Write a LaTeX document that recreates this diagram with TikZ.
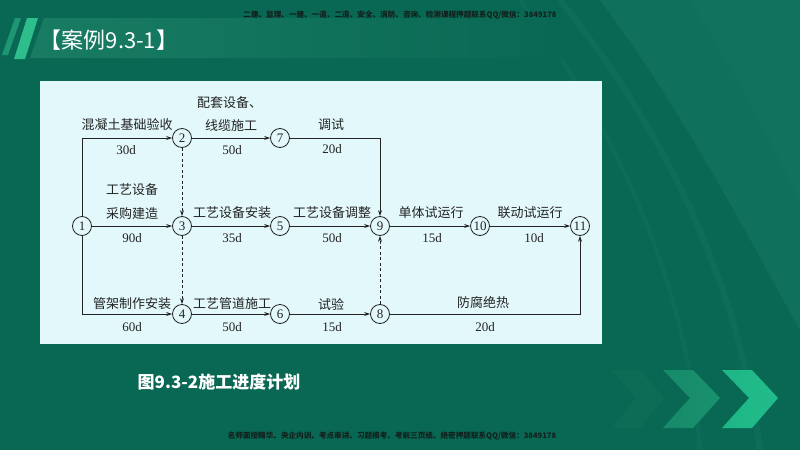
\documentclass[tikz,border=0pt]{standalone}
\usepackage{fontspec}
\setmainfont{Liberation Serif}
\newfontfamily\cjk{Noto Sans CJK SC}
\usetikzlibrary{arrows.meta}
\definecolor{bgg}{RGB}{9,104,84}
\definecolor{bgl}{RGB}{22,120,98}
\definecolor{band}{RGB}{24,124,98}
\definecolor{paper}{RGB}{226,248,250}
\definecolor{ink}{RGB}{35,35,35}
\definecolor{stripe}{RGB}{45,190,140}
\definecolor{stripef}{RGB}{30,150,115}
\definecolor{chevA}{RGB}{12,108,86}
\definecolor{chevB}{RGB}{26,146,110}
\definecolor{chevC}{RGB}{32,188,138}
\definecolor{wm}{RGB}{18,32,28}
\begin{document}
\begin{tikzpicture}[x=1pt,y=-1pt,
  ev/.style={circle,draw=ink,line width=0.8pt,fill=paper,minimum size=19pt,inner sep=0pt,font=\fontsize{13}{14}\selectfont,text=ink},
  act/.style={draw=ink,line width=0.8pt,-{Stealth[length=6pt,width=4pt]}},
  dum/.style={act,dashed,dash pattern=on 3pt off 2.5pt},
  zh/.style={inner sep=0pt,font=\cjk\fontsize{13}{15}\selectfont,text=ink},
  du/.style={inner sep=0pt,font=\fontsize{13}{15}\selectfont,text=ink},
  wmark/.style={inner sep=0pt,font=\cjk\bfseries\fontsize{7.6}{9}\selectfont,text=wm}]
\useasboundingbox (0,0) rectangle (800,450);
% background
\fill[bgg] (0,0) rectangle (800,450);
\fill[bgl,opacity=0.5] (600,0) .. controls (690,120) and (760,260) .. (800,330) -- (800,0) -- cycle;
\fill[bgl,opacity=0.4] (690,0) .. controls (740,80) and (780,160) .. (800,200) -- (800,0) -- cycle;
\draw[bgl,line width=6pt,opacity=0.35] (560,0) .. controls (680,150) and (740,300) .. (760,450);
\draw[bgl,line width=4pt,opacity=0.3] (520,0) .. controls (640,160) and (690,320) .. (700,450);
% title band and stripes
\shade[left color=band,right color=bgg] (44,18) -- (560,18) -- (560,58) -- (30,58) -- cycle;
\fill[stripef] (15,18) -- (21,18) -- (8,55) -- (2,55) -- cycle;
\fill[stripe] (27,18) -- (38,18) -- (25,59) -- (14,59) -- cycle;
\node[inner sep=0pt,font=\cjk\fontsize{22}{25}\selectfont,text=white] (title) at (109,40) {【案例9.3-1】};
% watermarks
\node[wmark] (wmtop) at (400,15) {二建、监理、一建、一造、二造、安全、消防、咨询、检测课程押题联系QQ/微信：3849178};
\node[wmark] (wmbot) at (392,436) {名师面授精华、央企内训、考点串讲、习题模考、考前三页纸、绝密押题联系QQ/微信：3849178};
% chevrons
\fill[chevA] (612,370) -- (640,370) -- (664,398) -- (640,428) -- (612,428) -- (636,398) -- cycle;
\shade[left color=chevB!80!bgg,right color=chevB] (663,370) -- (693,370) -- (720,398) -- (693,428) -- (663,428) -- (690,398) -- cycle;
\shade[left color=chevC!85!chevB,right color=chevC] (722,370) -- (752,370) -- (778,398) -- (752,428) -- (722,428) -- (749,398) -- cycle;
% caption
\node[inner sep=0pt,font=\cjk\bfseries\fontsize{17}{20}\selectfont,text=white] (cap) at (219,382) {图9.3-2施工进度计划};
% diagram panel
\fill[paper] (40,81) rectangle (602,344);
% events
\node[ev] (n1) at (82,226) {1};
\node[ev] (n2) at (182,138) {2};
\node[ev] (n7) at (280,138) {7};
\node[ev] (n3) at (182,226) {3};
\node[ev] (n5) at (280,226) {5};
\node[ev] (n9) at (380,226) {9};
\node[ev] (n10) at (480,226) {10};
\node[ev] (n11) at (580,226) {11};
\node[ev] (n4) at (182,314) {4};
\node[ev] (n6) at (280,314) {6};
\node[ev] (n8) at (380,314) {8};
% activities
\draw[act] (n1) |- (n2);
\draw[act] (n1) -- (n3);
\draw[act] (n1) |- (n4);
\draw[act] (n2) -- (n7);
\draw[act] (n7) -| (n9);
\draw[act] (n3) -- (n5);
\draw[act] (n5) -- (n9);
\draw[act] (n9) -- (n10);
\draw[act] (n10) -- (n11);
\draw[act] (n4) -- (n6);
\draw[act] (n6) -- (n8);
\draw[act] (n8) -| (n11);
\draw[dum] (n2) -- (n3);
\draw[dum] (n3) -- (n4);
\draw[dum] (n8) -- (n9);
% labels
\node[zh] (a12) at (127,125) {混凝土基础验收};
\node[du] (d12) at (126,150) {30d};
\node[zh,anchor=west] (a27a) at (197,103) {配套设备、};
\node[zh] (a27b) at (231,126) {线缆施工};
\node[du] (d27) at (232,150) {50d};
\node[zh] (a79) at (331,125) {调试};
\node[du] (d79) at (332,149) {20d};
\node[zh] (a13a) at (132,190) {工艺设备};
\node[zh] (a13b) at (132,214) {采购建造};
\node[du] (d13) at (132,238) {90d};
\node[zh] (a35) at (232,213) {工艺设备安装};
\node[du] (d35) at (232,238) {35d};
\node[zh] (a59) at (332,213) {工艺设备调整};
\node[du] (d59) at (332,238) {50d};
\node[zh] (a910) at (431,213) {单体试运行};
\node[du] (d910) at (432,238) {15d};
\node[zh] (a1011) at (530,213) {联动试运行};
\node[du] (d1011) at (534,238) {10d};
\node[zh] (a14) at (132,304) {管架制作安装};
\node[du] (d14) at (132,327) {60d};
\node[zh] (a46) at (232,304) {工艺管道施工};
\node[du] (d46) at (232,327) {50d};
\node[zh] (a68) at (331,304) {试验};
\node[du] (d68) at (332,327) {15d};
\node[zh] (a811) at (483,303) {防腐绝热};
\node[du] (d811) at (485,327) {20d};
\end{tikzpicture}
\end{document}
